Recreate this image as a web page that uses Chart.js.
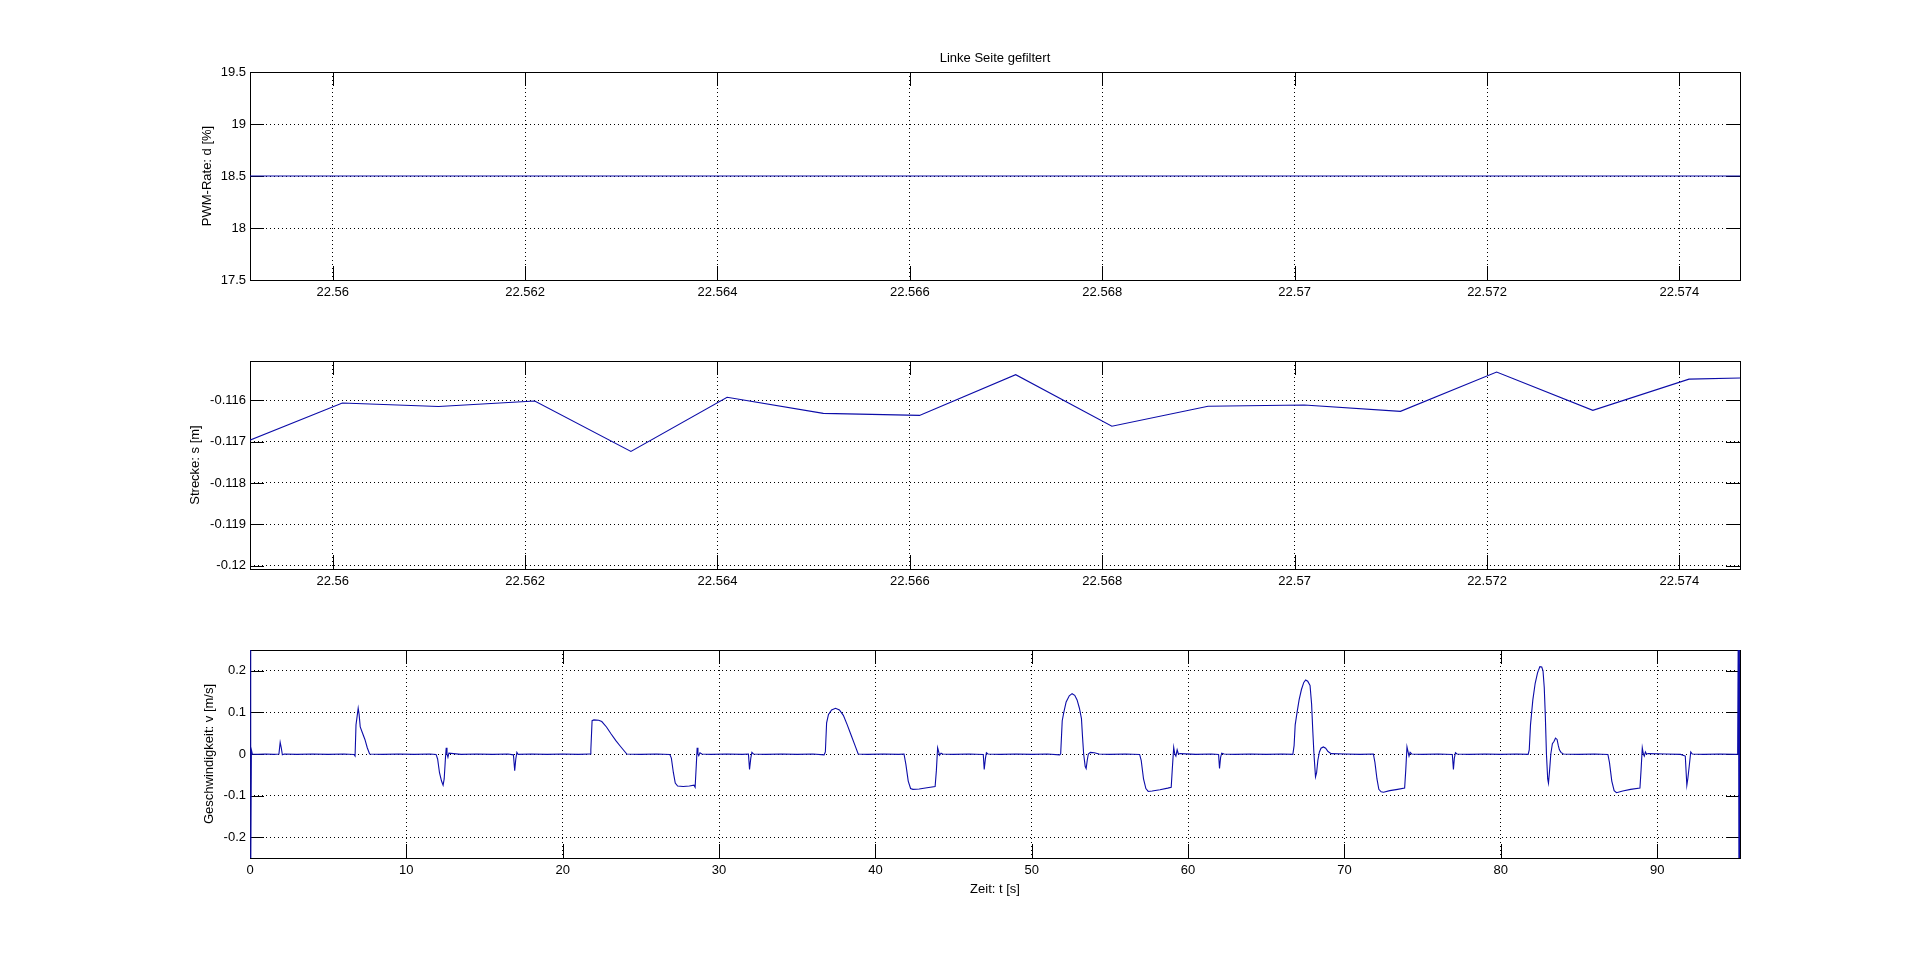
<!DOCTYPE html>
<html>
<head>
<meta charset="utf-8">
<title>Linke Seite gefiltert</title>
<script src="https://cdn.jsdelivr.net/npm/chart.js@4.4.1/dist/chart.umd.min.js"></script>
<style>
  html, body { margin: 0; padding: 0; background: #fff; }
  body { width: 1921px; height: 964px; position: relative; overflow: hidden; }
  .box { position: absolute; left: 0; width: 1921px; }
</style>
</head>
<body>
<div class="box" style="top:0;height:330px"><canvas id="pwmChart"></canvas></div>
<div class="box" style="top:330px;height:290px"><canvas id="distChart"></canvas></div>
<div class="box" style="top:620px;height:300px"><canvas id="speedChart"></canvas></div>
<script>
// Zoomed time window (top two plots), seconds
const zoomTime = [22.5591, 22.5601, 22.5611, 22.5621, 22.5631, 22.5641, 22.5651, 22.5661, 22.5671,
                  22.5681, 22.5691, 22.5701, 22.5711, 22.5721, 22.5731, 22.5741, 22.5751];
// PWM rate d [%]
const pwmRate = [18.5, 18.5, 18.5, 18.5, 18.5, 18.5, 18.5, 18.5, 18.5,
                 18.5, 18.5, 18.5, 18.5, 18.5, 18.5, 18.5, 18.5];
// Strecke s [m]
const distance = [-0.117, -0.116065, -0.11615, -0.116016, -0.117236, -0.115927, -0.116317, -0.116366, -0.115382,
                  -0.116626, -0.116146, -0.116114, -0.116268, -0.115317, -0.116244, -0.115488, -0.115438];

// Full run (bottom plot): time t [s] and speed v [m/s]
const speedTime = [
  0, 0.03, 0.06, 0.09, 0.15, 0.5, 1.0, 1.5, 1.85, 1.93, 2.0, 2.07, 2.2, 3.0, 4.0, 5.0, 6.0,
  6.65, 6.72, 6.78, 6.92, 6.98, 7.05, 7.2, 7.35, 7.5, 7.65, 8.5, 9.5, 10.5, 11.5,
  11.9, 12.0, 12.12, 12.25, 12.35, 12.42, 12.5, 12.55, 12.6, 12.66, 12.72, 13.5, 14.5, 15.5, 16.5,
  16.85, 16.93, 17.0, 17.07, 17.15, 18, 19, 20, 21,
  21.75, 21.8, 21.88, 22.0, 22.3, 22.5, 22.8, 23.1, 23.4, 23.7, 24.1, 25, 26,
  26.85, 26.95, 27.08, 27.2, 27.35, 27.7, 28.1, 28.4, 28.47, 28.54, 28.6, 28.65, 28.7, 28.78, 28.9, 29.5, 30.5, 31.5,
  31.88, 31.95, 32.03, 32.1, 32.2, 33, 34, 35, 36,
  36.72, 36.8, 36.88, 37.0, 37.2, 37.45, 37.7, 37.95, 38.2, 38.45, 38.7, 38.9, 39.5, 40.5, 41.5,
  41.83, 41.95, 42.1, 42.25, 42.4, 42.8, 43.3, 43.82, 43.9, 43.98, 44.03, 44.1, 44.2, 44.3, 45, 46,
  46.9, 46.96, 47.04, 47.1, 47.2, 48, 49, 50, 51,
  51.78, 51.85, 51.95, 52.05, 52.2, 52.4, 52.58, 52.75, 52.9, 53.05, 53.18, 53.25, 53.32, 53.42, 53.48, 53.55,
  53.62, 53.75, 54.0, 54.3, 55, 56,
  56.9, 57.0, 57.15, 57.3, 57.45, 57.7, 58.2, 58.7, 58.92, 59.0, 59.08, 59.15, 59.22, 59.3, 59.38, 59.5, 60.5, 61.5,
  61.95, 62.01, 62.08, 62.15, 62.3, 63, 64, 65, 66,
  66.7, 66.78, 66.85, 66.97, 67.1, 67.25, 67.4, 67.52, 67.65, 67.8, 67.9, 67.97, 68.05, 68.15, 68.22, 68.3,
  68.4, 68.5, 68.65, 68.8, 68.95, 69.15, 70, 71,
  71.85, 71.95, 72.08, 72.2, 72.35, 72.5, 72.9, 73.4, 73.85, 73.92, 74.0, 74.07, 74.13, 74.2, 74.3, 75, 76,
  76.9, 76.97, 77.03, 77.1, 77.2, 78, 79, 80, 81,
  81.75, 81.82, 81.9, 82.05, 82.2, 82.35, 82.5, 82.62, 82.7, 82.78, 82.85, 82.92, 83.0, 83.05, 83.12, 83.2,
  83.3, 83.4, 83.5, 83.6, 83.68, 83.75, 83.85, 84.0, 85, 86,
  86.85, 86.95, 87.1, 87.25, 87.4, 87.8, 88.3, 88.9, 88.97, 89.05, 89.12, 89.18, 89.25, 89.32, 89.45, 90.5, 91.5,
  91.8, 91.9, 91.96, 92.05, 92.15, 92.25, 93, 94, 95.0, 95.15, 95.2, 95.24, 95.28, 95.3
];
const speed = [
  -0.6, 0.6, -0.3, 0.01, 0.0, -0.001, 0.0, -0.001, 0.0, 0.028, 0.015, -0.002, 0.0, -0.001, 0.0, -0.001, 0.0,
  -0.001, -0.005, 0.07, 0.11, 0.095, 0.065, 0.05, 0.035, 0.015, 0.0, -0.001, 0.0, -0.001, 0.0,
  -0.001, -0.012, -0.045, -0.065, -0.075, -0.06, -0.01, 0.015, 0.0, -0.008, 0.002, -0.001, 0.0, -0.001, 0.0,
  -0.002, -0.04, -0.012, 0.004, -0.001, 0.0, -0.001, 0.0, -0.001,
  0.0, 0.01, 0.08, 0.082, 0.081, 0.078, 0.065, 0.048, 0.032, 0.018, 0.0, -0.001, 0.0,
  -0.001, -0.01, -0.045, -0.07, -0.077, -0.078, -0.077, -0.075, -0.08, -0.03, 0.015, 0.0, -0.004, 0.003, 0.0, -0.001, 0.0, -0.001,
  0.0, -0.037, -0.01, 0.004, 0.0, -0.001, 0.0, -0.001, 0.0,
  -0.002, 0.005, 0.075, 0.095, 0.106, 0.11, 0.106, 0.093, 0.07, 0.045, 0.02, 0.0, -0.001, 0.0, -0.001,
  0.0, -0.025, -0.065, -0.083, -0.085, -0.084, -0.081, -0.078, -0.04, 0.015, 0.008, -0.003, 0.002, 0.0, -0.001, 0.0,
  -0.001, -0.037, -0.01, 0.003, 0.0, -0.001, 0.0, -0.001, 0.0,
  -0.002, 0.0, 0.08, 0.1, 0.125, 0.14, 0.145, 0.141, 0.13, 0.11, 0.085, 0.04, 0.0, -0.03, -0.035, -0.015,
  0.0, 0.004, 0.003, 0.0, -0.001, 0.0,
  -0.001, -0.015, -0.06, -0.083, -0.09, -0.089, -0.086, -0.082, -0.08, -0.03, 0.016, 0.0, -0.005, 0.01, 0.0, 0.001, -0.001, 0.0,
  -0.001, -0.035, -0.008, 0.002, 0.0, -0.001, 0.0, -0.001, 0.0,
  -0.001, 0.02, 0.07, 0.1, 0.13, 0.155, 0.172, 0.178, 0.175, 0.165, 0.12, 0.06, 0.0, -0.055, -0.045, -0.015,
  0.005, 0.014, 0.017, 0.014, 0.006, 0.001, 0.0, -0.001,
  0.0, -0.02, -0.06, -0.085, -0.091, -0.092, -0.088, -0.085, -0.082, -0.04, 0.017, 0.005, -0.005, 0.004, 0.0, -0.001, 0.0,
  -0.001, -0.037, -0.01, 0.003, 0.0, -0.001, 0.0, -0.001, 0.0,
  -0.001, 0.01, 0.07, 0.13, 0.17, 0.195, 0.21, 0.209, 0.2, 0.16, 0.09, 0.0, -0.06, -0.07, -0.04, 0.0,
  0.025, 0.03, 0.038, 0.035, 0.02, 0.01, 0.004, 0.0, -0.001, 0.0,
  -0.001, -0.02, -0.065, -0.088, -0.093, -0.089, -0.085, -0.082, -0.04, 0.015, 0.0, -0.005, 0.005, 0.0, 0.001, 0.0, -0.001,
  -0.005, -0.075, -0.06, -0.03, 0.005, 0.0, -0.001, 0.0, -0.001, 0.0, 0.4, -0.5, 0.5, -0.5
];

// Tick labels
const zoomTicks = [22.56, 22.562, 22.564, 22.566, 22.568, 22.57, 22.572, 22.574];
const pwmTicks = [17.5, 18, 18.5, 19, 19.5];
const distTicks = [-0.12, -0.119, -0.118, -0.117, -0.116];
const speedTimeTicks = [0, 10, 20, 30, 40, 50, 60, 70, 80, 90];
const speedTicks = [-0.2, -0.1, 0, 0.1, 0.2];

const FONT = "'Liberation Sans', Arial, sans-serif";
const LINE = 'rgb(12, 12, 168)';
Chart.defaults.font.family = FONT;
Chart.defaults.font.size = 13;
Chart.defaults.color = '#000';

// MATLAB style frame with inward tick marks on all four sides
const matlabBox = {
    id: 'matlabBox',
    beforeDatasetsDraw(chart) {
        const { ctx, chartArea: a, scales } = chart;
        const len = 14;
        ctx.save();
        ctx.strokeStyle = '#000';
        ctx.lineWidth = 1;
        ctx.beginPath();
        scales.x.ticks.forEach(t => {
            const px = Math.round(scales.x.getPixelForValue(t.value)) + 0.5;
            ctx.moveTo(px, a.bottom); ctx.lineTo(px, a.bottom - len);
            ctx.moveTo(px, a.top); ctx.lineTo(px, a.top + len);
        });
        scales.y.ticks.forEach(t => {
            const py = Math.round(scales.y.getPixelForValue(t.value)) + 0.5;
            ctx.moveTo(a.left, py); ctx.lineTo(a.left + len, py);
            ctx.moveTo(a.right, py); ctx.lineTo(a.right - len, py);
        });
        ctx.stroke();
        ctx.strokeRect(Math.round(a.left) + 0.5, Math.round(a.top) + 0.5, Math.round(a.width), Math.round(a.height));
        ctx.restore();
    }
};

function fmt(v) {
    return String(+v.toFixed(4));
}

function makePlot(id, { xs, ys, xMin, xMax, xTicks, yMin, yMax, yTicks, yTitle, xTitle, title, padTop, padLeft, xHeight }) {
    const ctx = document.getElementById(id).getContext('2d');
    return new Chart(ctx, {
        type: 'line',
        data: {
            datasets: [{
                data: xs.map((x, i) => ({ x, y: ys[i] })),
                borderColor: LINE,
                borderWidth: 1.1,
                pointRadius: 0,
                tension: 0,
                fill: false
            }]
        },
        plugins: [matlabBox],
        options: {
            responsive: true,
            maintainAspectRatio: false,
            animation: false,
            layout: { padding: { left: padLeft, right: 181, top: padTop, bottom: 0 } },
            plugins: {
                legend: { display: false },
                tooltip: { enabled: false },
                title: {
                    display: !!title,
                    text: title,
                    fullSize: false,
                    color: '#000',
                    font: { size: 13, weight: 'normal', family: FONT },
                    padding: { top: 0, bottom: 5.4 }
                }
            },
            scales: {
                x: {
                    type: 'linear',
                    min: xMin,
                    max: xMax,
                    afterBuildTicks: s => { s.ticks = xTicks.map(v => ({ value: v })); },
                    afterFit: s => { s.height = xHeight; },
                    ticks: { autoSkip: false, maxRotation: 0, padding: 5, callback: v => fmt(v) },
                    grid: { color: '#000', lineWidth: 1, drawTicks: false },
                    border: { display: false, dash: [1, 3] },
                    title: {
                        display: !!xTitle,
                        text: xTitle,
                        color: '#000',
                        font: { size: 13, family: FONT },
                        padding: { top: 4, bottom: 23.2 }
                    }
                },
                y: {
                    type: 'linear',
                    min: yMin,
                    max: yMax,
                    afterBuildTicks: s => { s.ticks = yTicks.map(v => ({ value: v })); },
                    afterFit: s => { s.width = 250 - padLeft; },
                    ticks: { autoSkip: false, padding: 4, callback: v => fmt(v) },
                    grid: { color: '#000', lineWidth: 1, drawTicks: false },
                    border: { display: false, dash: [1, 3] },
                    title: {
                        display: true,
                        text: yTitle,
                        color: '#000',
                        font: { size: 13, family: FONT },
                        padding: { top: 4, bottom: 4 }
                    }
                }
            }
        }
    });
}

makePlot('pwmChart', {
    xs: zoomTime, ys: pwmRate,
    xMin: 22.55914, xMax: 22.57463, xTicks: zoomTicks,
    yMin: 17.5, yMax: 19.5, yTicks: pwmTicks,
    yTitle: 'PWM-Rate: d [%]', title: 'Linke Seite gefiltert',
    padTop: 51, padLeft: 196, xHeight: 50
});

makePlot('distChart', {
    xs: zoomTime, ys: distance,
    xMin: 22.55914, xMax: 22.57463, xTicks: zoomTicks,
    yMin: -0.12008, yMax: -0.11505, yTicks: distTicks,
    yTitle: 'Strecke: s [m]',
    padTop: 31, padLeft: 184, xHeight: 51
});

makePlot('speedChart', {
    xs: speedTime, ys: speed,
    xMin: 0, xMax: 95.3, xTicks: speedTimeTicks,
    yMin: -0.25, yMax: 0.25, yTicks: speedTicks,
    yTitle: 'Geschwindigkeit: v [m/s]', xTitle: 'Zeit: t [s]',
    padTop: 30, padLeft: 198, xHeight: 62
});
</script>
</body>
</html>
